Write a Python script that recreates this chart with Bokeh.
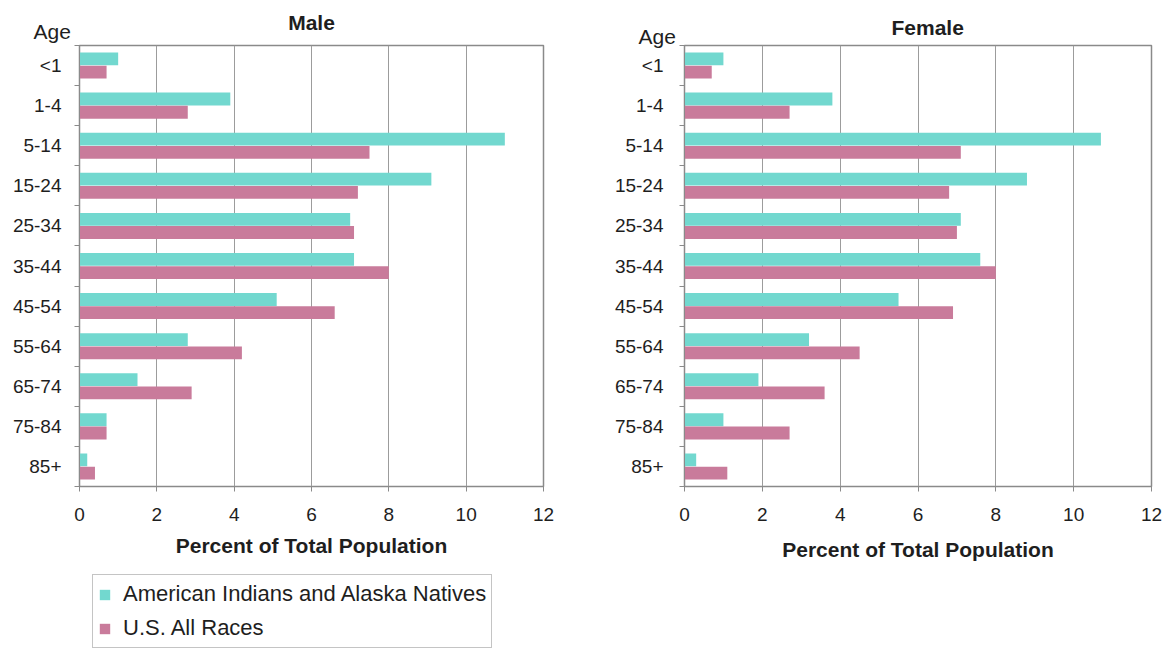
from bokeh.plotting import figure
from bokeh.models import (Range1d, FixedTicker, Title, Legend, LegendItem,
                          ColumnDataSource)
from bokeh.layouts import row, column
from bokeh.transform import dodge
from bokeh.embed import file_html
from bokeh.resources import INLINE

# ---------------- data ----------------
ages = ["<1", "1-4", "5-14", "15-24", "25-34", "35-44", "45-54",
        "55-64", "65-74", "75-84", "85+"]
male_aian = [1.0, 3.9, 11.0, 9.1, 7.0, 7.1, 5.1, 2.8, 1.5, 0.7, 0.2]
male_us = [0.7, 2.8, 7.5, 7.2, 7.1, 8.0, 6.6, 4.2, 2.9, 0.7, 0.4]
female_aian = [1.0, 3.8, 10.7, 8.8, 7.1, 7.6, 5.5, 3.2, 1.9, 1.0, 0.3]
female_us = [0.7, 2.7, 7.1, 6.8, 7.0, 8.0, 6.9, 4.5, 3.6, 2.7, 1.1]
x_ticks = [0, 2, 4, 6, 8, 10, 12]
series_names = ["American Indians and Alaska Natives", "U.S. All Races"]
panel_titles = ["Male", "Female"]
axis_title = "Percent of Total Population"
age_title = "Age"

# ---------------- style ----------------
FONT = "Liberation Sans"
CYAN = "#72D8CF"
PINK = "#C97B9B"
GRID = "#9c9c9c"
FRAME = "#8a8a8a"
TEXT = "#1e1e1e"


def make_source(aian, us):
    n = len(ages)
    ypos = [n - 1 - i for i in range(n)]
    return ColumnDataSource(dict(y=ypos, age=ages, aian=aian, us=us)), ypos


def make_panel(title, aian, us, width, height, mb_left, mb_right,
               title_align, title_offset, title_standoff, age_standoff,
               label_standoff, axis_label_standoff):
    n = len(ages)
    src, ypos = make_source(aian, us)
    p = figure(width=width, height=height, x_range=Range1d(0, 12),
               y_range=Range1d(-0.5, n - 0.5), output_backend="svg",
               toolbar_location=None, min_border_left=mb_left,
               min_border_right=mb_right, min_border_top=45,
               min_border_bottom=height - 45 - 441)
    p.background_fill_color = "white"
    p.border_fill_color = "white"
    p.outline_line_color = FRAME
    p.outline_line_width = 1.5

    p.hbar(y=dodge("y", 0.165), left=0, right="aian", height=0.32,
           source=src, fill_color=CYAN, line_color=None)
    p.hbar(y=dodge("y", -0.165), left=0, right="us", height=0.32,
           source=src, fill_color=PINK, line_color=None)

    # x axis
    xa = p.xaxis[0]
    xa.ticker = FixedTicker(ticks=x_ticks)
    xa.axis_label = axis_title
    xa.axis_label_text_font = FONT
    xa.axis_label_text_font_style = "bold"
    xa.axis_label_text_font_size = "21px"
    xa.axis_label_text_color = TEXT
    xa.axis_label_standoff = axis_label_standoff
    xa.major_label_text_font = FONT
    xa.major_label_text_font_size = "19px"
    xa.major_label_text_color = TEXT
    xa.major_label_standoff = 16
    xa.major_tick_out = 5
    xa.major_tick_in = 0
    xa.minor_tick_out = 0
    xa.minor_tick_in = 0
    xa.axis_line_color = FRAME
    xa.major_tick_line_color = FRAME

    # y axis (ticks between categories, labels centred)
    ya = p.yaxis[0]
    bounds = [k - 0.5 for k in range(n + 1)]
    ya.ticker = FixedTicker(ticks=ypos, minor_ticks=bounds)
    ya.major_label_overrides = {y: a for y, a in zip(ypos, ages)}
    ya.major_label_text_font = FONT
    ya.major_label_text_font_size = "19px"
    ya.major_label_text_color = TEXT
    ya.major_label_standoff = label_standoff
    ya.major_tick_out = 0
    ya.major_tick_in = 0
    ya.minor_tick_out = 5
    ya.minor_tick_in = 0
    ya.minor_tick_line_color = FRAME
    ya.axis_line_color = FRAME

    p.xgrid.grid_line_color = GRID
    p.xgrid.ticker = FixedTicker(ticks=x_ticks)
    p.ygrid.visible = False

    # titles above the frame: "Age" closest to the frame, panel title above it
    p.add_layout(Title(text=age_title, align="left", offset=-46,
                       standoff=age_standoff, text_font=FONT,
                       text_font_size="21px", text_font_style="normal",
                       text_color=TEXT), "above")
    p.add_layout(Title(text=title, align=title_align, offset=title_offset,
                       standoff=title_standoff, text_font=FONT,
                       text_font_size="21px", text_font_style="bold",
                       text_color=TEXT), "above")
    return p


W1 = 598
W2 = 1172 - W1
H1 = 572
left = make_panel(panel_titles[0], male_aian, male_us, W1, H1, 79, 55,
                  "center", 0, -36, 5, 13, 10)
right = make_panel(panel_titles[1], female_aian, female_us, W2, 650,
                   86, 21, "left", 207, -29, -4, 16, 14)

# legend strip below the left chart (its swatch renderers sit far out of view)
lf = figure(width=W1, height=650 - H1, output_backend="svg",
            toolbar_location=None, x_axis_type=None, y_axis_type=None,
            x_range=Range1d(500, 501), y_range=Range1d(500, 501),
            min_border=0)
lf.outline_line_color = None
lf.xgrid.visible = False
lf.ygrid.visible = False
lsrc, _ = make_source(male_aian, male_us)
d1 = lf.hbar(y="y", left=0, right="aian", height=0.32, source=lsrc,
             fill_color=CYAN, line_color=None)
d2 = lf.hbar(y="y", left=0, right="us", height=0.32, source=lsrc,
             fill_color=PINK, line_color=None)
legend = Legend(items=[LegendItem(label=series_names[0], renderers=[d1]),
                       LegendItem(label=series_names[1], renderers=[d2])],
                location=(13, 2), margin=0, padding=5, spacing=6,
                label_height=28, glyph_width=13, glyph_height=13,
                label_standoff=12, label_text_font=FONT,
                label_text_font_size="22px", label_text_color=TEXT,
                border_line_color=FRAME, border_line_width=1.2,
                background_fill_color="white", background_fill_alpha=1)
lf.add_layout(legend)

layout = row(column(left, lf), right)
open("out.html", "w").write(file_html(layout, INLINE))
